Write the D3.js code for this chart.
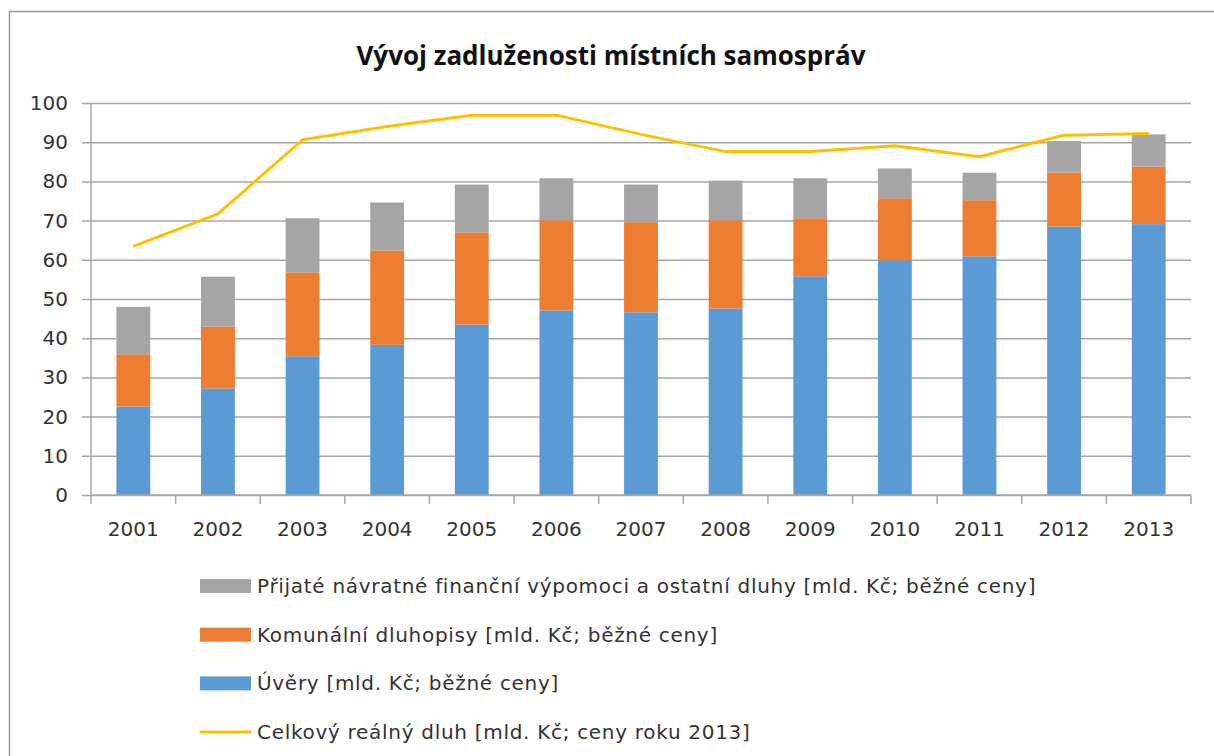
<!DOCTYPE html>
<html>
<head>
<meta charset="utf-8">
<script src="https://cdn.jsdelivr.net/npm/d3@7"></script>
<style>
    body { margin: 0; background: #fff; }
    svg { display: block; }
    .tick text { font-family: "DejaVu Sans", sans-serif; font-size: 20px; fill: #333; }
</style>
</head>
<body>
<div class="graph"></div>
<script>
"use strict";

var years = ["2001", "2002", "2003", "2004", "2005", "2006", "2007", "2008", "2009", "2010", "2011", "2012", "2013"];
var uvery = [22.6, 27.2, 35.4, 38.3, 43.5, 47.1, 46.6, 47.6, 55.8, 59.9, 60.9, 68.5, 69.1];
var dluhopisy = [13.3, 15.8, 21.4, 24.1, 23.5, 23.0, 23.0, 22.5, 14.8, 15.8, 14.3, 13.8, 14.7];
var ostatni = [12.1, 12.7, 13.8, 12.2, 12.2, 10.7, 9.6, 10.1, 10.2, 7.6, 7.0, 8.0, 8.2];
var realnyDluh = [63.4, 71.7, 90.6, 94.0, 96.9, 96.9, 92.0, 87.6, 87.6, 89.1, 86.3, 91.8, 92.2];
var yTicks = [0, 10, 20, 30, 40, 50, 60, 70, 80, 90, 100];

var seriesNames = ["Úvěry [mld. Kč; běžné ceny]", "Komunální dluhopisy [mld. Kč; běžné ceny]", "Přijaté návratné finanční výpomoci a ostatní dluhy [mld. Kč; běžné ceny]"];
var lineName = "Celkový reálný dluh [mld. Kč; ceny roku 2013]";
var colors = ["#5B9BD5", "#ED7D31", "#A5A5A5"];
var lineColor = "#FFC000";

var width = 1214;
var height = 756;
var plot = { left: 91, right: 1191, top: 103, bottom: 495 };

var rows = years.map(function (year, i) {
    return { year: year, uvery: uvery[i], dluhopisy: dluhopisy[i], ostatni: ostatni[i] };
});
var stacked = d3.stack().keys(["uvery", "dluhopisy", "ostatni"])(rows);

var svg = d3.select(".graph").append("svg").attr("width", width).attr("height", height);

// chart frame (only top and left edges fall inside the picture)
svg.append("path").attr("d", "M9.5,760V11.5H1220").attr("fill", "none").attr("stroke", "#9b9b9b").attr("stroke-width", 1.5);

svg.append("text").attr("x", 611).attr("y", 65).attr("text-anchor", "middle")
    .style("font-family", "'Open Sans', sans-serif").style("font-weight", "bold").style("font-size", "26px")
    .attr("fill", "#111").text("Vývoj zadluženosti místních samospráv");

var x = d3.scaleBand().domain(years).range([plot.left, plot.right]).paddingInner(0.6).paddingOuter(0.3);
var xCenter = function (d) { return x(d) + x.bandwidth() / 2; };
var y = d3.scaleLinear().domain([0, 100]).range([plot.bottom, plot.top]);

// y axis with gridlines
var yAxis = svg.append("g").attr("transform", "translate(" + plot.left + ",0)")
    .call(d3.axisLeft(y).tickValues(yTicks).tickSize(-(plot.right - plot.left)).tickPadding(23));
yAxis.select(".domain").remove();
yAxis.selectAll(".tick line").attr("stroke", "#a6a6a6").attr("stroke-width", 1.5).attr("x1", -9);

// bars
svg.append("g").selectAll("g").data(stacked).enter().append("g")
    .attr("fill", function (_, i) { return colors[i]; })
    .selectAll("rect").data(function (d) { return d; }).enter().append("rect")
    .attr("x", function (d) { return x(d.data.year); })
    .attr("width", x.bandwidth())
    .attr("y", function (d) { return y(d[1]); })
    .attr("height", function (d) { return y(d[0]) - y(d[1]); });

// x axis with ticks between categories
var xAxis = svg.append("g").attr("transform", "translate(0," + plot.bottom + ")")
    .call(d3.axisBottom(x).tickSize(0).tickPadding(27));
xAxis.select(".domain").attr("stroke", "#a6a6a6").attr("stroke-width", 1.5).attr("d", "M" + plot.left + ",0H" + plot.right);
var boundaries = d3.range(years.length + 1).map(function (i) { return plot.left + i * (plot.right - plot.left) / years.length; });
xAxis.selectAll(".sep").data(boundaries).enter().append("line").attr("class", "sep")
    .attr("x1", function (d) { return d; }).attr("x2", function (d) { return d; })
    .attr("y1", 0).attr("y2", 9).attr("stroke", "#a6a6a6").attr("stroke-width", 1.5);
svg.append("line").attr("x1", plot.left).attr("x2", plot.left).attr("y1", plot.top).attr("y2", plot.bottom)
    .attr("stroke", "#a6a6a6").attr("stroke-width", 1.5);

// real debt line
var line = d3.line().x(function (d, i) { return xCenter(years[i]); }).y(function (d) { return y(d); });
svg.append("path").datum(realnyDluh).attr("d", line).attr("fill", "none")
    .attr("stroke", lineColor).attr("stroke-width", 3).attr("stroke-linejoin", "round");

// legend
var legendItems = [
    { name: seriesNames[2], color: colors[2], type: "rect" },
    { name: seriesNames[1], color: colors[1], type: "rect" },
    { name: seriesNames[0], color: colors[0], type: "rect" },
    { name: lineName, color: lineColor, type: "line" }
];
var legend = svg.append("g").selectAll("g").data(legendItems).enter().append("g")
    .attr("transform", function (_, i) { return "translate(200," + (586 + i * 48.7) + ")"; });
legend.filter(function (d) { return d.type === "rect"; }).append("rect")
    .attr("x", 0).attr("y", -7).attr("width", 51).attr("height", 14).attr("fill", function (d) { return d.color; });
legend.filter(function (d) { return d.type === "line"; }).append("line")
    .attr("x1", 0).attr("x2", 51).attr("y1", 0).attr("y2", 0).attr("stroke", function (d) { return d.color; }).attr("stroke-width", 3);
legend.append("text").attr("x", 57).attr("y", 0).attr("dy", "0.35em")
    .style("font-family", "'DejaVu Sans', sans-serif").style("font-size", "20px").style("letter-spacing", "0.7px")
    .attr("fill", "#333")
    .text(function (d) { return d.name; });
</script>
</body>
</html>
